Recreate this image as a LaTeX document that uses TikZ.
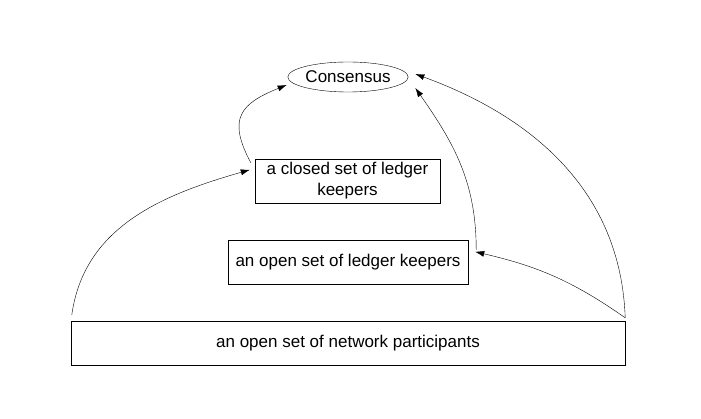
\documentclass[tikz,border=0pt]{standalone}
\usepackage{fontspec}
\setmainfont{Liberation Sans}
\usetikzlibrary{shapes.geometric, arrows.meta}
\tikzset{
	->,
	>={Latex[length=9pt,width=6pt]},
	line width=1.1pt,
	every node/.style={font=\fontsize{17}{21}\selectfont},
	box/.style={draw, rectangle, minimum height=44pt, inner sep=0pt, align=center},
	goal/.style={draw, ellipse, minimum width=120pt, minimum height=30pt, inner sep=0pt}}

\begin{document}
\begin{tikzpicture}[x=1pt, y=1pt]
		\useasboundingbox (0,0) rectangle (701,418);

		\node[goal] (cons) at (348,341) {Consensus};
		\node[box, minimum width=185pt] (closed) at (347.5,237) {a closed set of ledger\\keepers};
		\node[box, minimum width=240pt] (open) at (348,156) {an open set of ledger keepers};
		\node[box, minimum width=554pt] (part) at (348,75) {an open set of network participants};

		% ends of the connectors
		\coordinate (consA) at ([shift={(-1,-8)}]cons.west);
		\coordinate (consB) at ([shift={(7,-11)}]cons.east);
		\coordinate (consC) at ([shift={(7,3)}]cons.east);
		\coordinate (closedIn) at ([shift={(-5,-11)}]closed.north west);
		\coordinate (closedOut) at ([shift={(-4,-4)}]closed.north west);
		\coordinate (openIn) at ([shift={(7,-12)}]open.north east);
		\coordinate (openOut) at ([shift={(8,-10)}]open.north east);
		\coordinate (partL) at ([shift={(1,6)}]part.north west);
		\coordinate (partR) at ([shift={(0,3)}]part.north east);

		\path
		(closedOut) edge[out=118, in=202, looseness=1.5] (consA)
		(partL) edge[out=82, in=196] (closedIn)
		(partR) edge[out=145, in=-13] (openIn)
		(openOut) edge[out=90, in=-55] (consB)
		(partR) edge[out=92, in=-20] (consC)
		;
	\end{tikzpicture}
\end{document}
